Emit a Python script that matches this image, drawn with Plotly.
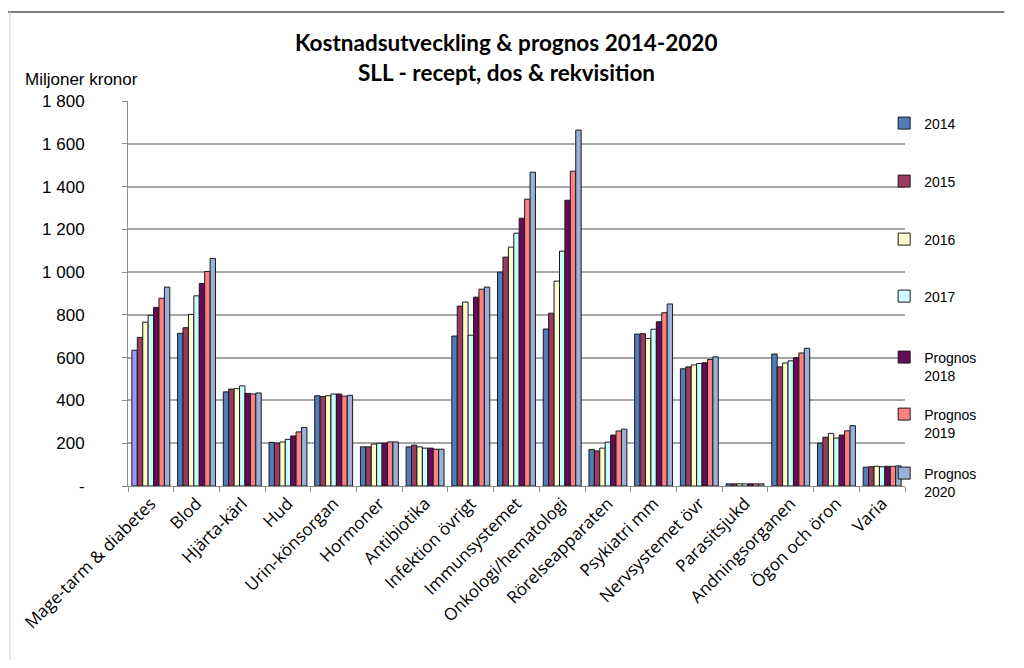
import plotly.graph_objects as go

categories = ["Mage-tarm & diabetes", "Blod", "Hjärta-kärl", "Hud", "Urin-könsorgan",
              "Hormoner", "Antibiotika", "Infektion övrigt", "Immunsystemet",
              "Onkologi/hematologi", "Rörelseapparaten", "Psykiatri mm",
              "Nervsystemet övr", "Parasitsjukd", "Andningsorganen", "Ögon och öron", "Varia"]

series_names = ["2014", "2015", "2016", "2017", "Prognos<br>2018", "Prognos<br>2019", "Prognos<br>2020"]

v2014 = [635, 714, 440, 204, 422, 183, 183, 701, 1000, 734, 171, 710, 548, 10, 617, 200, 88]
v2015 = [695, 740, 453, 200, 418, 183, 191, 841, 1070, 808, 164, 712, 557, 10, 557, 228, 90]
v2016 = [766, 802, 455, 206, 422, 196, 183, 860, 1117, 958, 177, 690, 566, 10, 575, 246, 92]
v2017 = [798, 889, 468, 218, 430, 200, 177, 705, 1182, 1098, 205, 733, 573, 10, 585, 224, 90]
v2018 = [835, 947, 433, 234, 430, 200, 177, 883, 1252, 1336, 238, 768, 576, 10, 600, 238, 92]
v2019 = [878, 1003, 430, 253, 420, 206, 172, 920, 1341, 1472, 257, 810, 592, 10, 622, 258, 92]
v2020 = [930, 1064, 435, 274, 424, 206, 172, 930, 1467, 1664, 266, 851, 604, 10, 644, 282, 94]

series_values = [v2014, v2015, v2016, v2017, v2018, v2019, v2020]
colors = ["#4F7DB8", "#9B3A62", "#FFFFCC", "#CCFFFF", "#650B5B", "#FF8080", "#99B0D8"]
first_bar_color = "#9999FF"

ytick_vals = [0, 200, 400, 600, 800, 1000, 1200, 1400, 1600, 1800]
ytick_text = ["-", "200", "400", "600", "800", "1 000", "1 200", "1 400", "1 600", "1 800"]

# legend entry (first text line) vertical centres in the reference, page pixels
legend_line_y = [123, 181, 239, 296, 357, 414, 473]

# figure geometry (page body has 8px margin)
W, H = 1008, 652
PL, PR, PT, PB = 114, 897, 93, 478   # plot area in figure pixels
pw, ph = PR - PL, PB - PT

def px(xp):  # page pixel x -> paper
    return (xp - 8 - PL) / pw

def py(yp):  # page pixel y -> paper
    return (PB - (yp - 8)) / ph

fig = go.Figure()
legend_layout = {}
for i, (name, vals, col) in enumerate(zip(series_names, series_values, colors)):
    xs = list(categories)
    ys = list(vals)
    mcol = [col] * len(categories)
    if i == 0:
        mcol[0] = first_bar_color
        # put the highlighted point last so the legend swatch uses the series colour
        xs = xs[1:] + xs[:1]
        ys = ys[1:] + ys[:1]
        mcol = mcol[1:] + mcol[:1]
    lg = "legend" if i == 0 else f"legend{i + 1}"
    fig.add_trace(go.Bar(
        x=xs, y=ys, name=name, legend=lg,
        marker=dict(color=mcol, line=dict(color="#1a1a1a", width=1)),
    ))
    legend_layout[lg] = dict(
        x=px(884), y=py(legend_line_y[i] - 15.5), xanchor="left", yanchor="top",
        font=dict(size=14, family="Liberation Sans, Arial, sans-serif"),
        itemwidth=30, bgcolor="rgba(0,0,0,0)", valign="top",
    )

fig.update_layout(
    width=W, height=H,
    margin=dict(l=PL, r=W - PR, t=PT, b=H - PB),
    paper_bgcolor="white", plot_bgcolor="white",
    barmode="group", bargap=0.17, bargroupgap=0,
    font=dict(family="Liberation Sans, Arial, sans-serif", size=14, color="#000000"),
    showlegend=True,
    annotations=[
        dict(text="<b>Kostnadsutveckling & prognos 2014-2020</b>", xref="paper", yref="paper",
             x=px(503), y=py(42), showarrow=False,
             font=dict(size=22.5, family="Lato, Open Sans, sans-serif"), xanchor="center", yanchor="middle"),
        dict(text="<b>SLL - recept, dos & rekvisition</b>", xref="paper", yref="paper",
             x=px(503), y=py(72), showarrow=False,
             font=dict(size=22.5, family="Lato, Open Sans, sans-serif"), xanchor="center", yanchor="middle"),
        dict(text="Miljoner kronor", xref="paper", yref="paper",
             x=px(16), y=py(79), showarrow=False, xanchor="left", yanchor="middle",
             font=dict(size=17, family="Liberation Sans Narrow, Liberation Sans, Arial, sans-serif")),
    ],
    shapes=[
        dict(type="line", xref="paper", yref="paper", x0=px(0), x1=px(1005),
             y0=py(12), y1=py(12), line=dict(color="#7f7f7f", width=2)),
        dict(type="line", xref="paper", yref="paper", x0=px(3), x1=px(3),
             y0=py(12), y1=py(665), line=dict(color="#d0d0d0", width=1)),
        dict(type="line", xref="paper", yref="paper", x0=px(3), x1=px(1005),
             y0=py(665), y1=py(665), line=dict(color="#d0d0d0", width=1)),
    ],
    **legend_layout,
)

fig.update_yaxes(range=[0, 1800], tickvals=ytick_vals, ticktext=ytick_text,
                 showgrid=True, gridcolor="#a6a6a6", gridwidth=1.5,
                 showline=True, linecolor="#8c8c8c", linewidth=1,
                 ticks="outside", ticklen=5, tickcolor="#8c8c8c",
                 ticklabelstandoff=34, zeroline=False,
                 tickfont=dict(size=17, family="Liberation Sans, Arial, sans-serif"))
fig.update_xaxes(categoryorder="array", categoryarray=categories,
                 tickangle=-45, showline=True, linecolor="#8c8c8c", linewidth=1,
                 ticks="outside", ticklen=5, tickcolor="#8c8c8c", tickson="boundaries",
                 tickfont=dict(size=17, family="Open Sans, Lato, sans-serif"))

fig.write_html("out.html")
